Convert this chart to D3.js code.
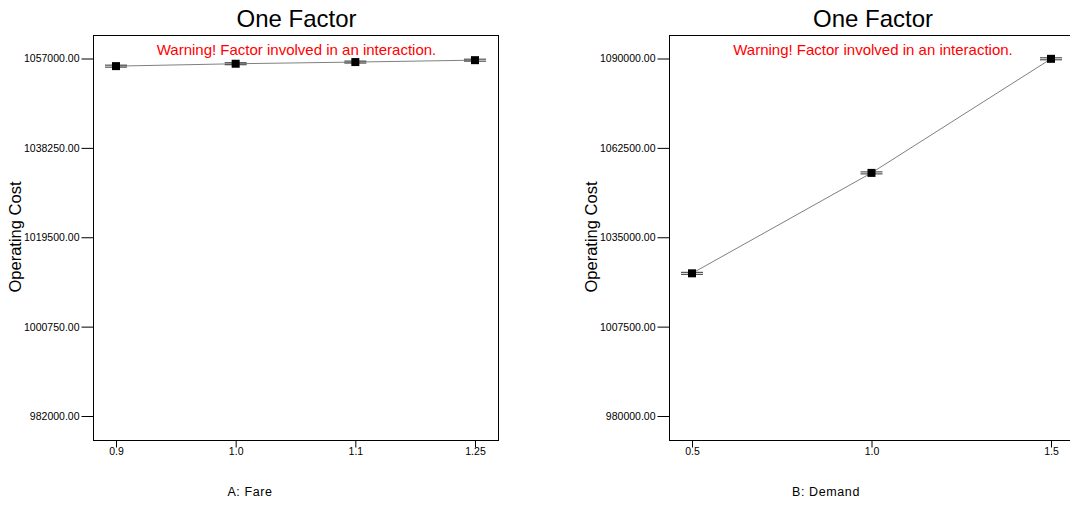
<!DOCTYPE html>
<html>
<head>
<meta charset="utf-8">
<script src="https://cdn.jsdelivr.net/npm/d3@7"></script>
<style>
  body { margin: 0; background: #fff; }
  svg { display: block; font-family: "Liberation Sans", Arial, sans-serif; }
</style>
</head>
<body>
<div id="chart"></div>
<script>
// data
var fareLevels = ["0.9", "1.0", "1.1", "1.25"];
var fareCost = [1055400, 1055900, 1056250, 1056650];
var fareTicks = [982000, 1000750, 1019500, 1038250, 1057000];

var demandLevels = [0.5, 1.0, 1.5];
var demandCost = [1023900, 1054800, 1089900];
var demandTicks = [980000, 1007500, 1035000, 1062500, 1090000];

var svg = d3.select("#chart").append("svg")
    .attr("width", 1070)
    .attr("height", 530);

// one panel of the plot
function drawPanel(opt) {
    var g = svg.append("g");
    var left = opt.left, right = opt.right, top = 35, bottom = 440;

    var y = d3.scaleLinear()
        .domain([opt.ticks[0], opt.ticks[opt.ticks.length - 1]])
        .range([416, 58.5]);

    var x;
    if (opt.categorical) {
        x = d3.scalePoint().domain(opt.levels).range([left + 23, right - 23]);
    } else {
        x = d3.scaleLinear().domain([0.5, 1.5]).range([left + 23, right - 24]);
    }

    // box
    g.append("rect")
        .attr("x", left + 0.5).attr("y", top + 0.5)
        .attr("width", right - left).attr("height", bottom - top)
        .attr("fill", "none").attr("stroke", "#000").attr("stroke-width", 1);

    // y axis
    var yAxis = d3.axisLeft(y)
        .tickValues(opt.ticks)
        .tickSize(12)
        .tickPadding(2)
        .tickSizeOuter(0)
        .tickFormat(d3.format(".2f"));
    var ya = g.append("g")
        .attr("transform", "translate(" + (left + 0.5) + ",0)")
        .call(yAxis);
    ya.select(".domain").remove();
    ya.selectAll("text").attr("font-size", 10.5).attr("fill", "#000")
        .attr("font-family", "Liberation Sans, Arial, sans-serif");
    ya.selectAll("line").attr("stroke", "#000");

    // x axis
    var xAxis = d3.axisBottom(x)
        .tickSize(7)
        .tickSizeOuter(0);
    if (opt.categorical) {
        xAxis.tickValues(opt.levels);
    } else {
        xAxis.tickValues(opt.levels).tickFormat(d3.format(".1f"));
    }
    var xa = g.append("g")
        .attr("transform", "translate(0," + (bottom + 0.5) + ")")
        .call(xAxis);
    xa.select(".domain").remove();
    xa.selectAll("text").attr("font-size", 10.5).attr("fill", "#000")
        .attr("font-family", "Liberation Sans, Arial, sans-serif")
        .attr("y", 7).attr("dy", "0.71em");
    xa.selectAll("line").attr("stroke", "#000");

    // title
    g.append("text")
        .attr("x", (left + right) / 2 + 1)
        .attr("y", 27)
        .attr("text-anchor", "middle")
        .attr("font-size", 24)
        .attr("fill", "#000")
        .text("One Factor");

    // warning
    g.append("text")
        .attr("x", (left + right) / 2 + 1)
        .attr("y", 55)
        .attr("text-anchor", "middle")
        .attr("font-size", 15)
        .attr("fill", "#ff0000")
        .text("Warning! Factor involved in an interaction.");

    // y label
    g.append("text")
        .attr("transform", "translate(" + (opt.ylabX) + ",237) rotate(-90)")
        .attr("text-anchor", "middle")
        .attr("font-size", 16.5)
        .attr("fill", "#000")
        .text("Operating Cost");

    // x label
    g.append("text")
        .attr("x", opt.xlabX)
        .attr("y", 496)
        .attr("text-anchor", "middle")
        .attr("font-size", 12.5)
        .attr("letter-spacing", "0.6px")
        .attr("fill", "#000")
        .text(opt.xlabel);

    var pts = opt.levels.map(function(d, i) { return {x: d, v: opt.values[i]}; });

    // line through the means
    g.append("path")
        .datum(pts)
        .attr("fill", "none")
        .attr("stroke", "#808080")
        .attr("stroke-width", 1)
        .attr("d", d3.line()
            .x(function(d) { return x(d.x); })
            .y(function(d) { return y(d.v); }));

    // LSD bars (short)
    [-1, 1].forEach(function(off) {
        g.append("g").selectAll("line").data(pts).enter()
            .append("line")
            .attr("x1", function(d) { return x(d.x) - 11; })
            .attr("x2", function(d) { return x(d.x) + 11; })
            .attr("y1", function(d) { return y(d.v) + off; })
            .attr("y2", function(d) { return y(d.v) + off; })
            .attr("stroke", "#333")
            .attr("stroke-width", 1);
    });

    // points
    g.append("g").selectAll("rect").data(pts).enter()
        .append("rect")
        .attr("x", function(d) { return x(d.x) - 4; })
        .attr("y", function(d) { return y(d.v) - 4; })
        .attr("width", 8)
        .attr("height", 8)
        .attr("fill", "#000");
}

drawPanel({
    left: 93, right: 498, categorical: true,
    levels: fareLevels, values: fareCost, ticks: fareTicks,
    ylabX: 21, xlabX: 250, xlabel: "A: Fare"
});

drawPanel({
    left: 669, right: 1075, categorical: false,
    levels: demandLevels, values: demandCost, ticks: demandTicks,
    ylabX: 597, xlabX: 826, xlabel: "B: Demand"
});
</script>
</body>
</html>
